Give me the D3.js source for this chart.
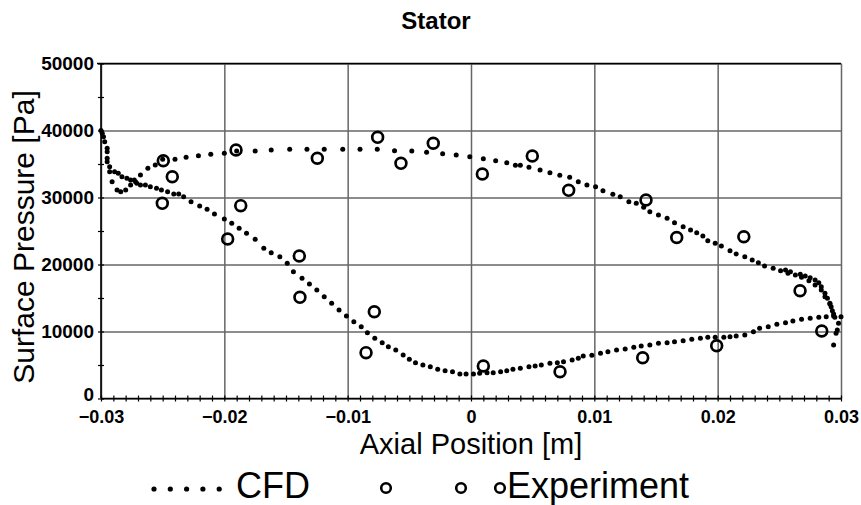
<!DOCTYPE html>
<html>
<head>
<meta charset="utf-8">
<title>Stator</title>
<script src="https://d3js.org/d3.v7.min.js"></script>
<style>
    body { margin: 0; background: #fff; font-family: "Liberation Sans", Arial, sans-serif; }
    .grid line { stroke: #666; stroke-width: 1.5px; }
    .grid path { display: none; }
    .ticks path { display: none; }
    .ticks line { stroke: #000; stroke-width: 1.2px; }
    .ticks text { font-weight: bold; fill: #000; }
    .cfd { fill: #000; }
    .exp { fill: none; stroke: #000; stroke-width: 2.7px; }
</style>
</head>
<body>
<svg id="chart" width="861" height="505"></svg>
<script>
// CFD surface pressure, pressure side branch [axial m, Pa]
const cfdUpper = [
    [-0.0300, 40000], [-0.0299, 39580], [-0.0298, 39070], [-0.0297, 38330], [-0.0295, 37340],
    [-0.0295, 36830], [-0.0295, 35850], [-0.0295, 35340], [-0.0293, 34600], [-0.0293, 33850],
    [-0.0291, 32360], [-0.0287, 31120], [-0.0284, 30860], [-0.0280, 31120], [-0.0276, 31870],
    [-0.0272, 32360], [-0.0268, 33360], [-0.0262, 34360], [-0.0256, 34850], [-0.0250, 35700],
    [-0.0240, 35700], [-0.0231, 36000], [-0.0221, 36240], [-0.0211, 36450], [-0.0200, 36600],
    [-0.0190, 36940], [-0.0175, 36940], [-0.0162, 37090], [-0.0147, 37190], [-0.0133, 37190],
    [-0.0119, 37190], [-0.0104, 37190], [-0.0090, 37190], [-0.0076, 37190], [-0.0062, 36990],
    [-0.0048, 36940], [-0.0036, 36740], [-0.0023, 36540], [-0.0012, 36340], [-0.0001, 36090],
    [0.0010, 35790], [0.0020, 35490], [0.0029, 35190], [0.0036, 34800], [0.0040, 34800],
    [0.0047, 34510], [0.0056, 34100], [0.0064, 33700], [0.0072, 33310], [0.0080, 33010],
    [0.0087, 32360], [0.0094, 31860], [0.0101, 31610], [0.0107, 31010], [0.0115, 30470],
    [0.0121, 30120], [0.0128, 29370], [0.0134, 29130], [0.0140, 28530], [0.0145, 27880],
    [0.0152, 27390], [0.0159, 26890], [0.0165, 26240], [0.0172, 25640], [0.0178, 25150],
    [0.0183, 24750], [0.0188, 24250], [0.0192, 23550], [0.0198, 23160], [0.0203, 22760],
    [0.0210, 22060], [0.0215, 21570], [0.0222, 21160], [0.0228, 20670], [0.0233, 20270],
    [0.0238, 19780], [0.0245, 19430], [0.0251, 19070], [0.0255, 19180], [0.0257, 18690],
    [0.0259, 18930], [0.0263, 18430], [0.0267, 18540], [0.0268, 18090], [0.0271, 18280],
    [0.0274, 17580], [0.0275, 18030], [0.0279, 16940], [0.0279, 17690], [0.0282, 17280],
    [0.0284, 16190], [0.0284, 16690], [0.0287, 15190], [0.0287, 15700], [0.0289, 14950],
    [0.0291, 14100], [0.0291, 14210], [0.0292, 13700], [0.0293, 13100], [0.0294, 12610],
    [0.0295, 12120]
];

// CFD surface pressure, suction side branch [axial m, Pa]
const cfdLower = [
    [-0.0289, 33850], [-0.0286, 33610], [-0.0283, 33100], [-0.0279, 32860], [-0.0276, 32610],
    [-0.0273, 32610], [-0.0271, 32120], [-0.0268, 31870], [-0.0264, 31870], [-0.0260, 31610],
    [-0.0255, 31370], [-0.0251, 31120], [-0.0246, 30860], [-0.0241, 30520], [-0.0237, 30520],
    [-0.0233, 30120], [-0.0227, 29370], [-0.0220, 28730], [-0.0214, 28240], [-0.0208, 27540],
    [-0.0200, 26790], [-0.0194, 26150], [-0.0188, 25400], [-0.0182, 24650], [-0.0175, 23760],
    [-0.0168, 22420], [-0.0162, 21760], [-0.0155, 21160], [-0.0149, 20180], [-0.0144, 18930],
    [-0.0137, 17940], [-0.0131, 17090], [-0.0125, 16190], [-0.0119, 15190], [-0.0113, 14210],
    [-0.0107, 13210], [-0.0101, 12310], [-0.0095, 11460], [-0.0089, 10720], [-0.0084, 9820],
    [-0.0078, 8980], [-0.0072, 8330], [-0.0067, 7730], [-0.0061, 7240], [-0.0055, 6490],
    [-0.0050, 5850], [-0.0045, 5340], [-0.0039, 5000], [-0.0033, 4750], [-0.0027, 4360],
    [-0.0021, 4150], [-0.0015, 4000], [-0.0009, 3660], [-0.0004, 3660], [0.0002, 3660],
    [0.0007, 3760], [0.0013, 3850], [0.0018, 3850], [0.0024, 4000], [0.0029, 4150],
    [0.0034, 4360], [0.0040, 4510], [0.0047, 4750], [0.0052, 4850], [0.0057, 5000],
    [0.0064, 5250], [0.0070, 5340], [0.0075, 5490], [0.0082, 5750], [0.0087, 6000],
    [0.0091, 6340], [0.0098, 6450], [0.0105, 6750], [0.0111, 6990], [0.0118, 7240],
    [0.0125, 7390], [0.0132, 7640], [0.0138, 7840], [0.0145, 7990], [0.0152, 8240],
    [0.0159, 8330], [0.0165, 8480], [0.0172, 8630], [0.0179, 8840], [0.0186, 8990],
    [0.0192, 9130], [0.0198, 9130], [0.0205, 9130], [0.0210, 9220], [0.0215, 9330],
    [0.0222, 9480], [0.0229, 9970], [0.0234, 10480], [0.0241, 10720], [0.0248, 11070],
    [0.0255, 11310], [0.0261, 11570], [0.0268, 11820], [0.0275, 11970], [0.0282, 12120],
    [0.0288, 12210], [0.0294, 12310], [0.0300, 12210]
];

// CFD trailing edge dots [axial m, Pa]
const cfdTrailing = [
    [0.0298, 11220], [0.0297, 10220], [0.0296, 9730], [0.0294, 7990]
];

// Experiment
const expX = [-0.02495, -0.02422, -0.02503, -0.01905, -0.01867, -0.01973, -0.01392, -0.01387,
    -0.00784, -0.00851, 0.00100, 0.00722, -0.01246, -0.00757, -0.00568, -0.00306, 0.00092,
    0.00497, 0.00792, 0.01419, 0.01668, 0.02212, 0.02668, 0.02844, 0.01992, 0.01392];
const expY = [35490, 33100, 29130, 37090, 28780, 23810, 21270, 15100, 12950, 6840, 4850, 4000,
    35850, 38980, 35100, 38090, 33510, 36190, 31070, 29630, 24030, 24150, 16090, 10070, 7880, 6090];

const xTicks = [-0.03, -0.02, -0.01, 0, 0.01, 0.02, 0.03];
const yTicks = [0, 10000, 20000, 30000, 40000, 50000];

const title = 'Stator';
const xTitle = 'Axial Position [m]';
const yTitle = 'Surface Pressure [Pa]';
const legendNames = ['CFD', 'Experiment'];

const margin = { top: 63.5, right: 20, bottom: 106.5, left: 101 },
    width = 861 - margin.left - margin.right,
    height = 505 - margin.top - margin.bottom;

const svg = d3.select('#chart');
const g = svg.append('g').attr('transform', `translate(${margin.left},${margin.top})`);

const x = d3.scaleLinear().domain([-0.03, 0.03]).range([0, width]);
const y = d3.scaleLinear().domain([0, 50000]).range([height, 0]);

// grid
g.append('g').attr('class', 'grid')
    .call(d3.axisBottom(x).tickValues(xTicks).tickSize(height).tickFormat(''));
g.append('g').attr('class', 'grid')
    .call(d3.axisLeft(y).tickValues(yTicks).tickSize(-width).tickFormat(''));
// top frame is black
g.append('line').attr('x1', -4).attr('x2', width).attr('y1', 0).attr('y2', 0)
    .attr('stroke', '#000').attr('stroke-width', 1.6);

// minor ticks
const minorX = d3.range(-30, 31).map(d => d / 1000);
g.append('g').attr('class', 'ticks')
    .attr('transform', `translate(0,${height})`)
    .call(d3.axisBottom(x).tickValues(minorX).tickSize(3).tickFormat(''))
    .selectAll('line').attr('y1', -3);
const minorY = d3.range(0, 50001, 5000);
g.append('g').attr('class', 'ticks')
    .call(d3.axisLeft(y).tickValues(minorY).tickSize(3).tickFormat(''))
    .selectAll('line').attr('x1', 3);

// axis lines
g.append('line').attr('x1', 0).attr('x2', 0).attr('y1', 0).attr('y2', height)
    .attr('stroke', '#000').attr('stroke-width', 1.6);
g.append('line').attr('x1', 0).attr('x2', width).attr('y1', height).attr('y2', height)
    .attr('stroke', '#000').attr('stroke-width', 1.6);

// tick labels
const xl = g.append('g').attr('class', 'ticks')
    .attr('transform', `translate(0,${height})`)
    .call(d3.axisBottom(x).tickValues(xTicks).tickSize(0).tickPadding(12)
        .tickFormat(d => d === 0 ? '0' : d3.format('.2f')(d)));
xl.selectAll('text').style('font-size', '18px');

const yl = g.append('g').attr('class', 'ticks')
    .call(d3.axisLeft(y).tickValues(yTicks).tickSize(0).tickPadding(7).tickFormat(d3.format('d')));
yl.selectAll('text').style('font-size', '19px');
// lift the "0" label off the x labels
yl.selectAll('text').filter(d => d === 0).attr('dy', '0.1em');

// CFD dots
const cfdAll = cfdUpper.concat(cfdLower, cfdTrailing);
g.append('g').selectAll('circle').data(cfdAll).join('circle')
    .attr('class', 'cfd')
    .attr('cx', d => x(d[0]))
    .attr('cy', d => y(d[1]))
    .attr('r', 2.5);

// experiment circles
g.append('g').selectAll('circle').data(expX).join('circle')
    .attr('class', 'exp')
    .attr('cx', d => x(d))
    .attr('cy', (d, i) => y(expY[i]))
    .attr('r', 5.4);

// titles
svg.append('text').attr('x', 436).attr('y', 29).attr('text-anchor', 'middle')
    .style('font-weight', 'bold').style('font-size', '24px').text(title);
svg.append('text').attr('x', 471).attr('y', 454).attr('text-anchor', 'middle')
    .style('font-size', '29px').text(xTitle);
svg.append('text').attr('transform', 'translate(34,237) rotate(-90)').attr('text-anchor', 'middle')
    .style('font-size', '30px').text(yTitle);

// legend
const legend = svg.append('g');
legend.selectAll('circle.l1').data(d3.range(5)).join('circle')
    .attr('cx', i => 154 + i * 16.3).attr('cy', 489).attr('r', 2.6).attr('fill', '#000');
legend.append('text').attr('x', 236).attr('y', 498).style('font-size', '36px').text(legendNames[0]);
legend.selectAll('circle.l2').data([386, 461, 500]).join('circle')
    .attr('cx', d => d).attr('cy', 488).attr('r', 4.8)
    .attr('fill', 'none').attr('stroke', '#000').attr('stroke-width', 2.6);
legend.append('text').attr('x', 507).attr('y', 498).style('font-size', '36px').text(legendNames[1]);
</script>
</body>
</html>
